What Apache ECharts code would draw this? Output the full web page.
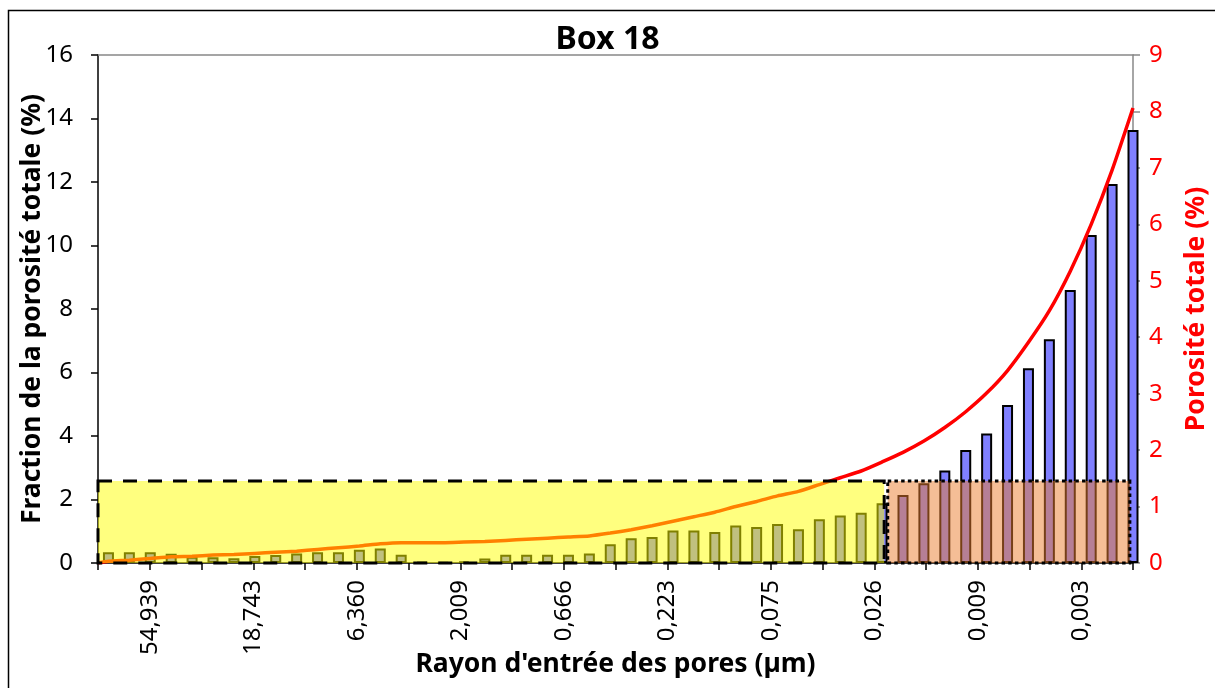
<!DOCTYPE html>
<html>
<head>
<meta charset="utf-8">
<script src="https://cdn.jsdelivr.net/npm/echarts@6/dist/echarts.min.js"></script>
<style>
html,body{margin:0;padding:0;background:#fff;}
#chart{width:1215px;height:688px;}
</style>
</head>
<body>
<div id="chart"></div>
<script>
// Fraction de la porosité totale (%) per pore-radius class (50 classes, large -> small)
const barValues = [
  0.34, 0.34, 0.34, 0.29, 0.20, 0.18, 0.15, 0.22, 0.25, 0.30,
  0.34, 0.34, 0.42, 0.46, 0.26, 0.03, 0.02, 0.04, 0.14, 0.26,
  0.26, 0.26, 0.26, 0.30, 0.59, 0.78, 0.82, 1.02, 1.02, 0.98,
  1.18, 1.13, 1.23, 1.06, 1.38, 1.50, 1.58, 1.88, 2.14, 2.51,
  2.91, 3.56, 4.08, 4.98, 6.13, 7.05, 8.60, 10.33, 11.94, 13.64
];
// Porosité totale (%) curve: value at the left edge, then one value per class
const lineStart = 0;
const lineValues = [
  0.03, 0.05, 0.08, 0.11, 0.12, 0.14, 0.15, 0.17, 0.19, 0.21,
  0.24, 0.27, 0.30, 0.34, 0.36, 0.36, 0.36, 0.37, 0.38, 0.40,
  0.42, 0.44, 0.46, 0.48, 0.53, 0.59, 0.66, 0.74, 0.82, 0.90,
  1.00, 1.09, 1.19, 1.27, 1.39, 1.51, 1.63, 1.79, 1.96, 2.16,
  2.40, 2.68, 3.01, 3.41, 3.91, 4.47, 5.17, 6.00, 6.96, 8.06
];
// x tick labels (pore radius, µm), on odd ticks
const xLabels = ["54,939", "18,743", "6,360", "2,009", "0,666", "0,223", "0,075", "0,026", "0,009", "0,003"];
// highlighted zones: [start class, end class, top value on left axis]
const zoneYellow = [-0.5, 37.1, 2.58];
const zoneOrange = [37.27, 48.85, 2.58];

const FONT = "Noto Sans";
const chart = echarts.init(document.getElementById('chart'), null, {renderer: 'canvas'});

function zoneSeries(zone, fill, dash) {
  return {
    type: 'custom',
    xAxisIndex: 0, yAxisIndex: 0,
    z: 10,
    silent: true,
    data: [zone],
    renderItem: function (params, api) {
      const p0 = api.coord([api.value(0), api.value(2)]);
      const p1 = api.coord([api.value(1), 0]);
      return {
        type: 'rect',
        shape: {x: p0[0], y: p0[1], width: p1[0] - p0[0], height: p1[1] - p0[1]},
        style: {fill: fill, stroke: '#000', lineWidth: 3, lineDash: dash}
      };
    }
  };
}

const lineData = [[-0.5, lineStart]].concat(lineValues.map((v, i) => [i, v]));

const option = {
  animation: false,
  backgroundColor: '#fff',
  title: {
    text: 'Box 18',
    left: 'center', top: 19,
    textStyle: {fontFamily: FONT, fontSize: 32, fontWeight: 'bold', color: '#000'}
  },
  graphic: [{
    type: 'rect', left: 6, top: 8,
    shape: {width: 1260, height: 720},
    style: {fill: 'none', stroke: '#000', lineWidth: 1.5},
    silent: true, z: -1
  }],
  grid: {left: 98, right: 82, top: 55, bottom: 125, containLabel: false, outerBoundsMode: 'none'},
  xAxis: [
    {
      type: 'value', min: -0.5, max: 49, position: 'top',
      axisLine: {show: true, onZero: false, lineStyle: {color: '#888', width: 1.5}},
      axisTick: {show: false}, axisLabel: {show: false}, splitLine: {show: false}
    },
    {
      type: 'value', min: 0, max: 20, interval: 1, position: 'bottom',
      name: "Rayon d'entrée des pores (µm)",
      nameLocation: 'middle', nameGap: 88, nameMoveOverlap: false,
      nameTextStyle: {fontFamily: FONT, fontSize: 26.5, fontWeight: 'bold', color: '#000'},
      axisLine: {show: true, onZero: false, lineStyle: {color: '#000', width: 1.5}},
      axisTick: {show: true, inside: false, length: 7, lineStyle: {color: '#000', width: 1.5}},
      axisLabel: {
        rotate: 90, margin: 17,
        fontFamily: FONT, fontSize: 24, color: '#000',
        formatter: function (v) {
          return (v % 2 === 1) ? xLabels[(v - 1) / 2] : '';
        }
      },
      splitLine: {show: false}
    }
  ],
  yAxis: [
    {
      type: 'value', min: 0, max: 16, interval: 2, position: 'left',
      name: 'Fraction de la porosité totale (%)',
      nameLocation: 'middle', nameGap: 52, nameRotate: 90, nameMoveOverlap: false,
      nameTextStyle: {fontFamily: FONT, fontSize: 26.5, fontWeight: 'bold', color: '#000'},
      axisLine: {show: true, onZero: false, lineStyle: {color: '#000', width: 1.5}},
      axisTick: {show: true, inside: false, length: 7, lineStyle: {color: '#000', width: 1.5}},
      axisLabel: {margin: 25, fontFamily: FONT, fontSize: 24, color: '#000'},
      splitLine: {show: false}
    },
    {
      type: 'value', min: 0, max: 9, interval: 1, position: 'right',
      name: 'Porosité totale (%)',
      nameLocation: 'middle', nameGap: 50, nameRotate: 90, nameMoveOverlap: false,
      nameTextStyle: {fontFamily: FONT, fontSize: 26.5, fontWeight: 'bold', color: '#ff0000'},
      axisLine: {show: true, onZero: false, lineStyle: {color: '#888', width: 1.5}},
      axisTick: {show: true, inside: false, length: 7, lineStyle: {color: '#888', width: 1.5}},
      axisLabel: {margin: 16, fontFamily: FONT, fontSize: 24, color: '#ff0000'},
      splitLine: {show: false}
    }
  ],
  series: [
    {
      type: 'bar', xAxisIndex: 0, yAxisIndex: 0,
      barWidth: 11, z: 2,
      data: barValues.map((v, i) => [i, v]),
      itemStyle: {color: '#8080ff', borderColor: '#000', borderWidth: 2}
    },
    {
      type: 'line', xAxisIndex: 0, yAxisIndex: 1,
      z: 3, symbol: 'none', smooth: 0.2,
      data: lineData,
      lineStyle: {color: '#ff0000', width: 3.5}
    },
    zoneSeries(zoneYellow, 'rgba(255,255,0,0.5)', [14, 11]),
    zoneSeries(zoneOrange, 'rgba(235,125,45,0.5)', [3.5, 3.2])
  ]
};
chart.setOption(option);
</script>
</body>
</html>
